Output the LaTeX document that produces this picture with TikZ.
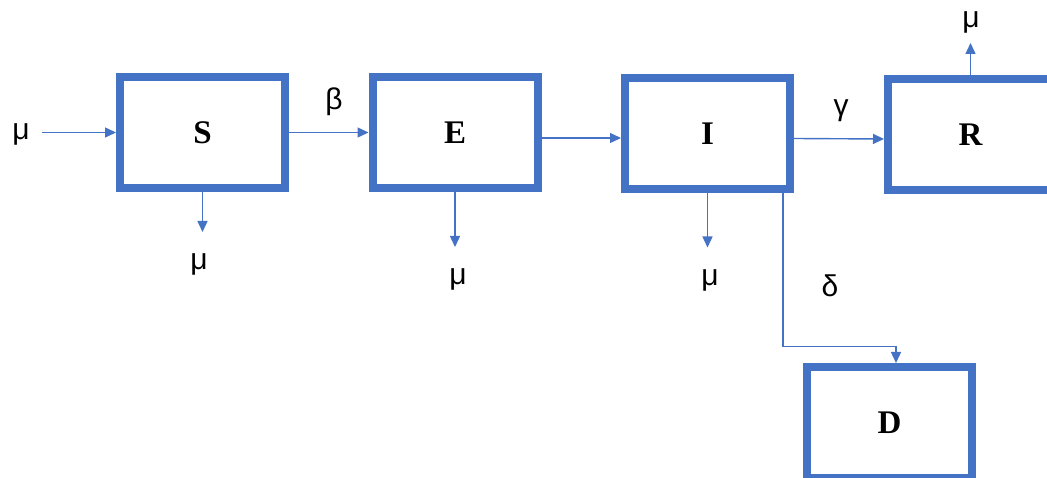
\documentclass[tikz,border=0pt]{standalone}
\usepackage{fontspec}
\setmainfont{Liberation Serif}
\newfontfamily\greekfont{Liberation Sans}
\usetikzlibrary{arrows.meta}
\definecolor{boxblue}{HTML}{4472C4}
\begin{document}
\begin{tikzpicture}[x=1pt, y=-1pt,
    compartment/.style={draw=boxblue, line width=8pt, minimum width=165pt, minimum height=111pt, font=\fontsize{33}{38}\selectfont\bfseries},
    flow/.style={draw=boxblue, line width=1.4pt, -{Triangle[length=11pt,width=10pt]}},
    rate/.style={font=\greekfont\fontsize{30}{34}\selectfont, inner sep=0pt}]
            \clip (0,0) rectangle (1047,478);

            \node[compartment] (S) at (202.5,132.5) {S};
            \node[compartment] (E) at (455,132.5) {E};
            \node[compartment] (I) at (707.5,134) {I};
            \node[compartment] (R) at (970.5,134.5) {R};
            \node[compartment] (D) at (889.5,422.5) {D};

            \node[rate] (muIn) at (21,134) {μ};
            \node[rate] (beta) at (334,102) {β};
            \node[rate] (gamma) at (841,111) {γ};
            \node[rate] (delta) at (830,286) {δ};
            \node[rate] (muS) at (199,264) {μ};
            \node[rate] (muE) at (458,279) {μ};
            \node[rate] (muI) at (710,280) {μ};
            \node[rate] (muR) at (971,22) {μ};

            \coordinate (inflow) at (42,132.5);
            \draw[flow] (inflow) -- (S.west);
            \draw[flow] (S.east) -- (E.west);
            \draw[flow] ([yshift=-5.5pt]E.east) -- ([yshift=-4pt]I.west);
            \draw[flow] ([yshift=-4.5pt]I.east) -- ([yshift=-4.5pt]R.west);

            \draw[flow] (S.south) -- ++(0,40) coordinate (sOut);
            \draw[flow] (E.south) -- ++(0,55) coordinate (eOut);
            \draw[flow] (I.south) -- ++(0,54) coordinate (iOut);
            \draw[flow] (R.north) -- ++(0,-32) coordinate (rOut);

            \draw[flow] ([xshift=75.5pt]I.south) -- ++(0,153) -| ([xshift=6.5pt]D.north);
        \end{tikzpicture}
\end{document}
